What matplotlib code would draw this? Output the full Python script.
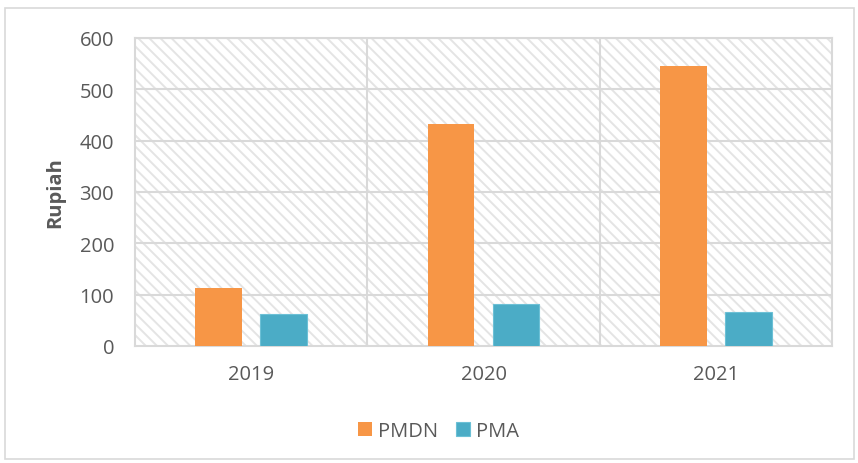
import numpy as np
import matplotlib.pyplot as plt
from matplotlib.patches import Rectangle

# data
tahun = ["2019", "2020", "2021"]
pmdn = [113, 433, 546]
pma = [62, 82, 66]

plt.rcParams["font.family"] = ["Open Sans", "DejaVu Sans"]
plt.rcParams["hatch.linewidth"] = 1.4
plt.rcParams["hatch.color"] = "#e4e4e4"

c_pmdn = "#F79646"
c_pma = "#4BACC6"
abu = "#d9d9d9"
teks = "#595959"
fs = 14.5

fig = plt.figure(figsize=(8.58, 4.64), dpi=100)
ax = fig.add_axes([135 / 858, 1 - 347 / 464, 697 / 858, 308 / 464])

# background hatch pattern of plot area
ax.add_patch(Rectangle((0, 0), 1, 1, transform=ax.transAxes, facecolor="white",
                       edgecolor="#e4e4e4", hatch="\\\\\\", linewidth=0, zorder=0))

x = np.arange(len(tahun))
w = 0.2
off = 0.14
ax.bar(x - off, pmdn, width=w, color=c_pmdn, label="PMDN", zorder=3)
ax.bar(x + off, pma, width=w, color=c_pma, edgecolor="#6cc0d6", linewidth=0.8,
       label="PMA", zorder=3)

ax.set_xlim(-0.5, len(tahun) - 0.5)
ax.set_ylim(0, 600)
ax.set_yticks(range(0, 601, 100))
ax.set_xticks(x)
ax.set_xticklabels(tahun)
ax.tick_params(length=0, labelsize=fs, colors=teks)
ax.tick_params(axis="y", pad=15)
ax.tick_params(axis="x", pad=13)

# grid: horizontal every 100, vertical at category borders
for yv in range(100, 601, 100):
    ax.axhline(yv, color=abu, lw=1.5, zorder=1)
for xv in [0.5, 1.5]:
    ax.axvline(xv, color=abu, lw=1.5, zorder=1)
for s in ax.spines.values():
    s.set_color(abu)
    s.set_linewidth(1.5)

ax.set_ylabel("Rupiah", fontsize=fs, fontweight="bold", color=teks, labelpad=10)

leg = fig.legend(loc="center", bbox_to_anchor=(0.511, 0.069), ncol=2, frameon=False,
                 fontsize=fs, handlelength=0.7, handleheight=0.7, columnspacing=0.85,
                 handletextpad=0.3)
for t in leg.get_texts():
    t.set_color(teks)

# outer chart border
fig.patches.append(Rectangle((5 / 858, 1 - 460 / 464), 849 / 858, 451 / 464,
                             transform=fig.transFigure, fill=False,
                             edgecolor=abu, linewidth=1.2))

fig.savefig("out.png", dpi=100, facecolor="white")
